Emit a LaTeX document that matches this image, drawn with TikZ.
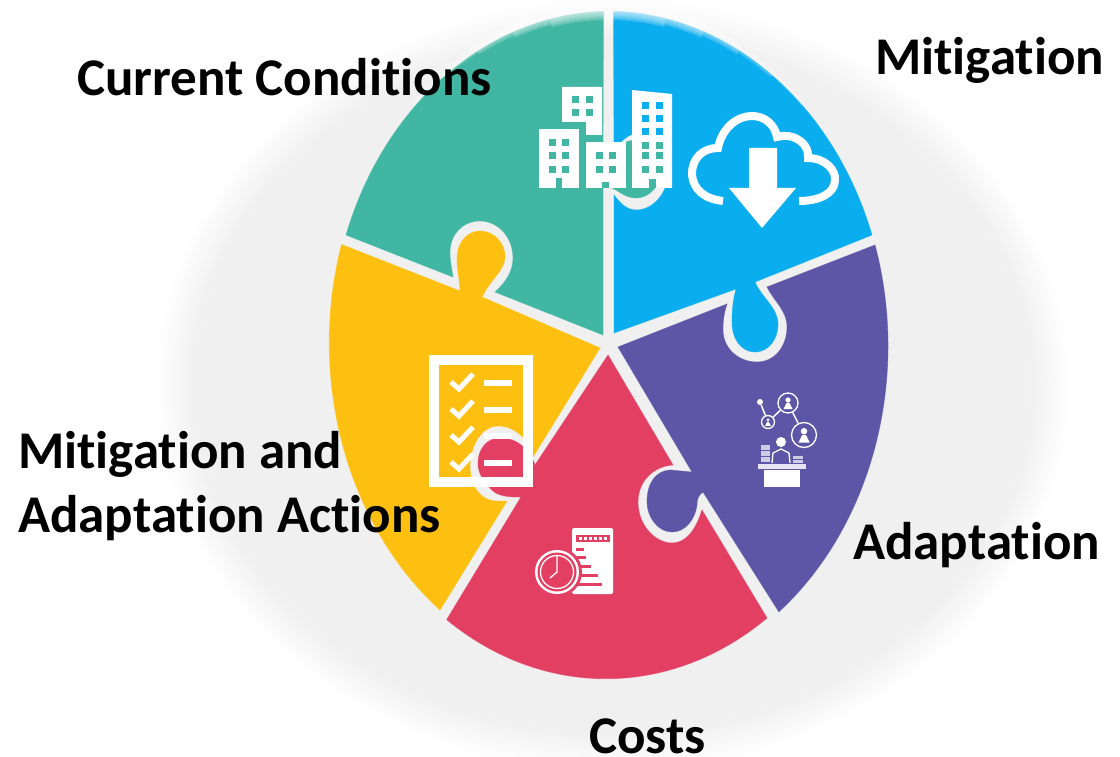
\documentclass[tikz,border=0pt]{standalone}
\usepackage{fontspec}
\setmainfont[Ligatures=NoCommon]{Carlito}
\definecolor{tealseg}{HTML}{41B7A3}
\definecolor{blueseg}{HTML}{0AADEE}
\definecolor{purpleseg}{HTML}{5D55A6}
\definecolor{redseg}{HTML}{E23F63}
\definecolor{yellowseg}{HTML}{FEC010}
\definecolor{halo}{HTML}{F0F0F1}
\tikzset{
    label/.style={font=\fontsize{53}{53}\selectfont\bfseries, text=black, anchor=base west, inner sep=0pt},
    seg/.style={draw=white, draw opacity=0.5, line width=0.8pt},
    hub/.style={circle, draw=white, line width=1.3pt, inner sep=0pt},
}
\begin{document}
\begin{tikzpicture}[x=1pt,y=-1pt]
            \useasboundingbox (0,0) rectangle (1120,757);
            % soft grey disc behind the wheel
            \foreach \i in {0,5,...,100} {
                \fill[halo!\i!white] (613,385) ellipse [x radius={458-0.4*\i}, y radius={388-0.4*\i}];
            }
            % puzzle pieces
            \fill[seg, blueseg] (614,333) -- (736,289) .. controls (733,300) and (732,310) .. (732,322)
                .. controls (732,340) and (742,352) .. (755,352) .. controls (768,352) and (778,340) .. (778,324)
                .. controls (778,308) and (762,298) .. (755,282) -- (872,235)
                arc [start angle=-19.5, end angle=-88.7, x radius=281, y radius=336]
                -- (614,145) .. controls (622,145) and (625,133) .. (640,133) .. controls (656,133) and (669,148) .. (669,168)
                .. controls (669,192) and (654,210) .. (636,210) .. controls (625,210) and (618,200) .. (614,195) -- cycle;
            \fill[seg, tealseg] (603,335) -- (495,292) .. controls (505,283) and (513,272) .. (513,258)
                .. controls (513,237) and (498,221) .. (480,221) .. controls (462,221) and (450,235) .. (450,252)
                .. controls (450,262) and (452,270) .. (453,277) -- (346,235)
                arc [start angle=199.5, end angle=268.5, x radius=281, y radius=336]
                -- (603,152) .. controls (615,152) and (620,140) .. (638,140) .. controls (652,140) and (661,152) .. (661,168)
                .. controls (661,185) and (650,198) .. (636,198) .. controls (622,198) and (616,186) .. (603,186) -- cycle;
            \fill[seg, purpleseg] (618,347) -- (727,304) .. controls (724,313) and (723,320) .. (723,330)
                .. controls (723,348) and (738,362) .. (757,362) .. controls (775,362) and (787,346) .. (787,327)
                .. controls (787,310) and (773,300) .. (767,287) -- (875,245)
                arc [start angle=-17.5, end angle=52.3, x radius=281, y radius=336]
                -- (703,492) .. controls (698,495) and (697,500) .. (697,505) .. controls (695,520) and (685,532) .. (672,532)
                .. controls (658,532) and (647,517) .. (647,502) .. controls (647,484) and (655,471) .. (670,470) -- (692,472) -- cycle;
            \fill[seg, redseg] (608,355) -- (673,465) .. controls (655,466) and (638,480) .. (638,502)
                .. controls (638,525) and (655,543) .. (672,543) .. controls (685,543) and (695,532) .. (702,510) -- (767,618)
                arc [start angle=55, end angle=124.5, x radius=281, y radius=336]
                -- (521,497) .. controls (510,497) and (497,497) .. (490,488) .. controls (483,480) and (478,473) .. (478,463)
                .. controls (478,449) and (487,438) .. (500,438) .. controls (518,438) and (530,450) .. (535,465) -- cycle;
            \fill[seg, yellowseg] (600,348) -- (533,457) .. controls (530,440) and (515,426) .. (498,426)
                .. controls (482,426) and (470,445) .. (470,467) .. controls (470,485) and (480,500) .. (495,501) -- (507,501) -- (440,610)
                arc [start angle=127.3, end angle=197, x radius=281, y radius=336]
                -- (460,291) .. controls (460,280) and (457,272) .. (457,258) .. controls (457,243) and (467,231) .. (480,231)
                .. controls (494,231) and (505,243) .. (505,257) .. controls (505,270) and (490,280) .. (482,297) -- cycle;
            % faded top rim
            \foreach \w/\a in {4/44, 8/36, 12/28, 16/20, 20/12} {
                \draw[white, opacity=0.2, line width=\w pt] (608,346) ++(270-\a:281 and 336)
                    arc [start angle=270-\a, end angle=270+\a, x radius=281, y radius=336];
            }
            % buildings
            \fill[white] (562,87) -- (602,87) -- (602,135) -- (586,135) -- (586,122) -- (562,122) -- cycle;
            \fill[white] (539,129) rectangle (579,188);
            \fill[white] (586,142) rectangle (626,188);
            \fill[white] (632,90) -- (672,94) -- (672,188) -- (632,188) -- cycle;
            \foreach \x in {572,586} \foreach \y in {96,109} \fill[tealseg] (\x,\y) rectangle ++(7,7);
            \foreach \x in {549,562} \foreach \y in {139,152,166} \fill[tealseg] (\x,\y) rectangle ++(7,7);
            \foreach \x in {596,609} \foreach \y in {152,166} \fill[tealseg] (\x,\y) rectangle ++(7,7);
            \foreach \x in {642,656} \foreach \y in {102,115,128} \fill[blueseg] (\x,\y) rectangle ++(7,7);
            \foreach \x in {642,656} \foreach \y in {142,152,166} \fill[tealseg] (\x,\y) rectangle ++(7,7);
            \fill[tealseg] (556,178) rectangle (562,188);
            \fill[tealseg] (602,182) rectangle (609,188);
            \fill[tealseg] (649,179) rectangle (656,188);
            % cloud
            \draw[white, line width=8pt] (723,201) .. controls (705,199) and (693,190) .. (692,174)
                .. controls (692,158) and (703,148) .. (718,148) .. controls (722,128) and (737,116) .. (752,116)
                .. controls (765,116) and (775,125) .. (777,137) .. controls (795,132) and (810,145) .. (808,158)
                .. controls (825,158) and (836,170) .. (835,180) .. controls (835,193) and (820,201) .. (799,201);
            \fill[white] (749,148) -- (777,148) -- (777,188) -- (796,188) -- (762,228) -- (729,188) -- (749,188) -- cycle;
            % checklist
            \draw[white, line width=10pt] (434,360) rectangle (528,482);
            \foreach \y in {0,27,53,80} {
                \fill[white] (484,380+\y) rectangle (512,386+\y);
                \draw[white, line width=5pt] (451,382+\y) -- (459,389+\y) -- (473,374+\y);
            }
            % document and clock
            \fill[white, rounded corners=1.5pt] (572,528) rectangle (613,594);
            \fill[redseg] (576,535) rectangle (610,542);
            \foreach \x in {579,584,...,607} \fill[white] (\x,537) rectangle ++(3,3);
            \foreach \y/\w in {548/8,556/10,565/15,574/22,583/26} \fill[redseg] (576,\y) rectangle ++(\w,2.5);
            \fill[redseg] (557,572) circle [radius=25];
            \fill[white] (557,572) circle [radius=22];
            \fill[redseg] (557,572) circle [radius=19.5];
            \draw[white, line width=1.3pt] (557,572) circle [radius=16.5];
            \draw[white, line width=1.3pt] (557,556) -- (557,572) -- (550,578);
            % network and desk
            \node[hub, minimum size=20pt] (hubtop) at (788,403) {};
            \node[hub, minimum size=25pt] (hubright) at (804,435) {};
            \node[hub, minimum size=13pt] (hubleft) at (768,422) {};
            \node[circle, fill=white, inner sep=0pt, minimum size=6pt] (hubdot) at (760,402) {};
            \draw[white, line width=1.5pt] (hubdot) -- (hubleft) -- (hubtop) -- (hubright);
            \foreach \x/\y/\r in {788/403/1, 804/435/1.25, 768/422/0.65} {
                \fill[white] (\x,\y-3*\r) circle [radius=2.6*\r];
                \fill[white] (\x-4.5*\r,\y+6*\r) -- (\x-1.5*\r,\y) -- (\x+1.5*\r,\y) -- (\x+4.5*\r,\y+6*\r) -- cycle;
            }
            \fill[white] (781,442) circle [radius=5];
            \draw[white, line width=1.3pt] (772,463) -- (773,453) -- (781,449) -- (789,453) -- (790,463);
            \foreach \y in {445,451,457} \fill[white, opacity=0.7] (761,\y) rectangle ++(9,4.5);
            \foreach \y in {456,460} \fill[white, opacity=0.7] (793,\y) rectangle ++(10,3);
            \fill[white, opacity=0.85] (758,464) rectangle (806,469);
            \fill[white] (764,470) rectangle (800,487);
            % labels
            \node[label] (current) at (77,96) {Current Conditions};
            \node[label] (mitigation) at (875,75) {Mitigation};
            \node[label] (mitigationand) at (18,468) {Mitigation and};
            \node[label] (actions) at (18,532) {Adaptation Actions};
            \node[label] (adaptation) at (853,559) {Adaptation};
            \node[label] (costs) at (589,753) {Costs};
        \end{tikzpicture}
\end{document}
